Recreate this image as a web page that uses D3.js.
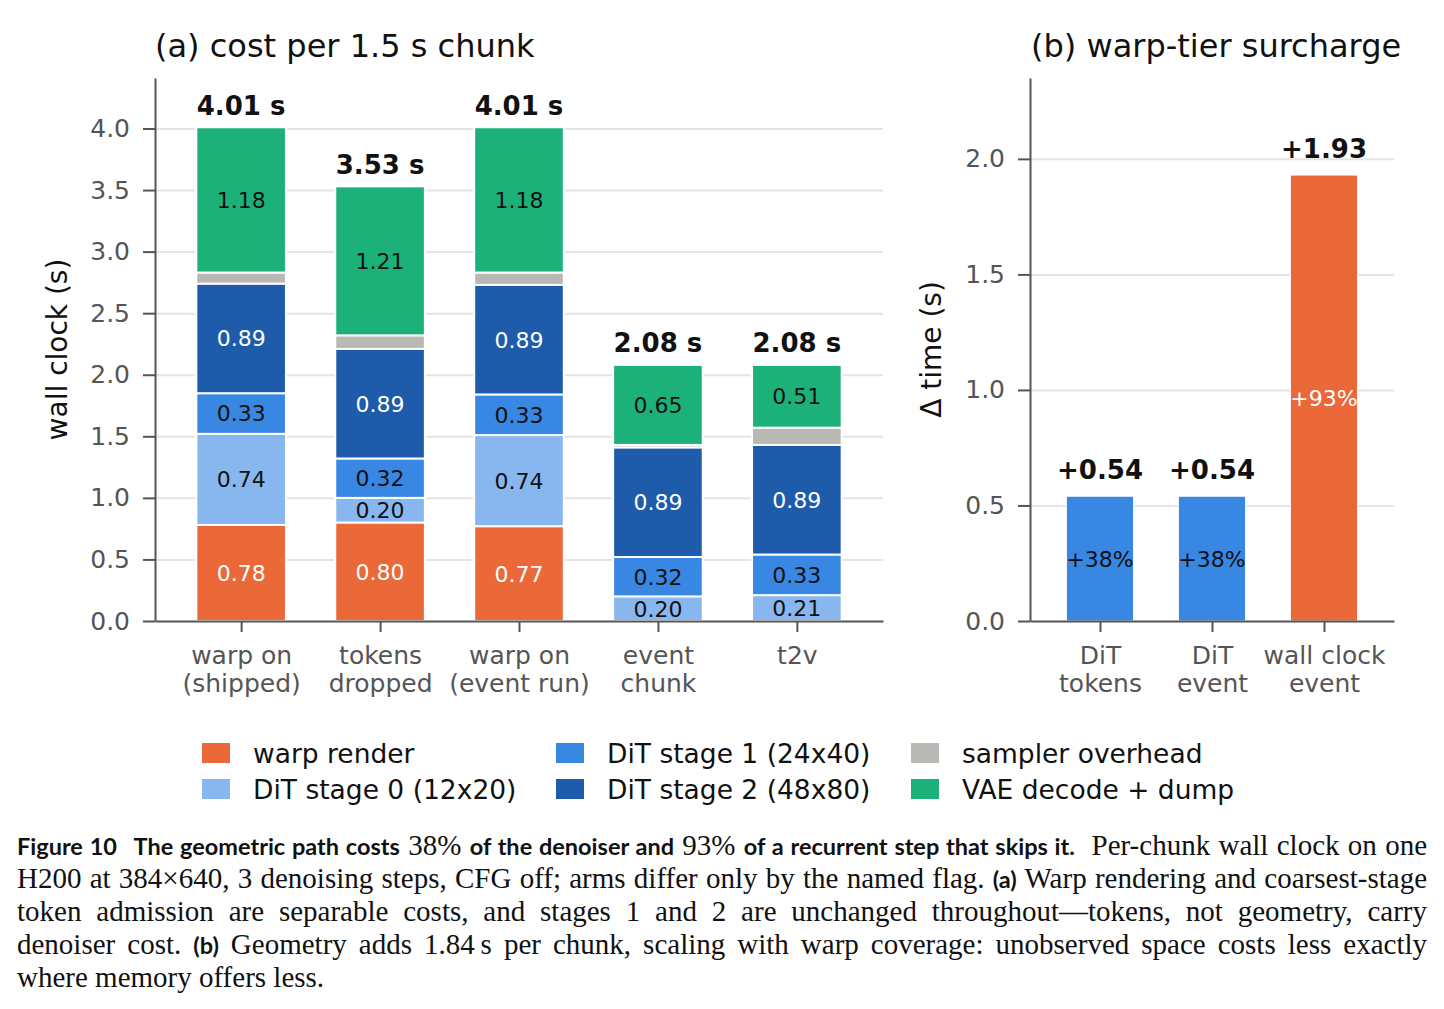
<!DOCTYPE html>
<html>
<head>
<meta charset="utf-8">
<script src="https://cdn.jsdelivr.net/npm/d3@7"></script>
<style>
  body { margin: 0; background: #fff; }
  #chart { position: absolute; left: 0; top: 0; }
  #caption {
    position: absolute; left: 17px; top: 829px; width: 1410px;
    font-family: "Liberation Serif", serif; font-size: 29px; line-height: 33px; color: #111;
  }
  #caption div { height: 33px; text-align: justify; text-align-last: justify; white-space: nowrap; }
  #caption div.last { text-align-last: left; }
  #caption b { font-family: Lato, "Open Sans", sans-serif; font-weight: 700; font-size: 23.5px; line-height: 20px; }
</style>
</head>
<body>
<div id="chart"></div>
<div id="caption">
  <div><b>Figure 10</b>&nbsp; <b>The geometric path costs</b> 38% <b>of the denoiser and</b> 93% <b>of a recurrent step that skips it.</b>&nbsp; Per-chunk wall clock on one</div>
  <div>H200 at 384×640, 3 denoising steps, CFG off; arms differ only by the named flag. <b>(a)</b> Warp rendering and coarsest-stage</div>
  <div>token admission are separable costs, and stages 1 and 2 are unchanged throughout—tokens, not geometry, carry</div>
  <div>denoiser cost. <b>(b)</b> Geometry adds 1.84&thinsp;s per chunk, scaling with warp coverage: unobserved space costs less exactly</div>
  <div class="last">where memory offers less.</div>
</div>
<script>
// ------------ DATA ------------
// (a) per-chunk cost, one value per arm
var arms = [["warp on", "(shipped)"], ["tokens", "dropped"], ["warp on", "(event run)"], ["event", "chunk"], ["t2v"]];
var warpRender      = [0.78, 0.80, 0.77, 0.00, 0.00];
var ditStage0       = [0.74, 0.20, 0.74, 0.20, 0.21];
var ditStage1       = [0.33, 0.32, 0.33, 0.32, 0.33];
var ditStage2       = [0.89, 0.89, 0.89, 0.89, 0.89];
var samplerOverhead = [0.09, 0.11, 0.10, 0.02, 0.14];
var vaeDecode       = [1.18, 1.21, 1.18, 0.65, 0.51];
var totals          = [4.01, 3.53, 4.01, 2.08, 2.08];

var seriesKeys   = ["warp", "s0", "s1", "s2", "sampler", "vae"];
var seriesNames  = ["warp render", "DiT stage 0 (12x20)", "DiT stage 1 (24x40)", "DiT stage 2 (48x80)", "sampler overhead", "VAE decode + dump"];
var seriesColors = ["#EB6838", "#88B7EF", "#3887E3", "#1E5BAA", "#BAB8B4", "#1DB17A"];
var whiteText    = ["warp", "s2"];

// (b) warp-tier surcharge
var tiers     = [["DiT", "tokens"], ["DiT", "event"], ["wall clock", "event"]];
var surcharge = [0.54, 0.54, 1.93];
var surchargePct = ["+38%", "+38%", "+93%"];
var tierColors = ["#3887E3", "#3887E3", "#EB6838"];

var yTicksA = [0, 0.5, 1.0, 1.5, 2.0, 2.5, 3.0, 3.5, 4.0];
var yTicksB = [0, 0.5, 1.0, 1.5, 2.0];

// ------------ SETUP ------------
var svgWidth = 1444, svgHeight = 825;
var font = "DejaVu Sans";
var axisColor = "#555";
var gridColor = "#E6E4E0";

var svg = d3.select("#chart").append("svg")
  .attr("width", svgWidth)
  .attr("height", svgHeight)
  .style("font-family", font);

var plotTop = 78, plotBottom = 621;

// build the table d3.stack needs
var table = arms.map(function(a, i) {
  return { i: i, warp: warpRender[i], s0: ditStage0[i], s1: ditStage1[i], s2: ditStage2[i], sampler: samplerOverhead[i], vae: vaeDecode[i] };
});
var stacked = d3.stack().keys(seriesKeys)(table);

// ------------ helpers ------------
function styleAxis(g) {
  g.select(".domain").attr("stroke", axisColor).attr("stroke-width", 2);
  g.selectAll(".tick line").attr("stroke", axisColor).attr("stroke-width", 2);
  g.selectAll(".tick text").attr("fill", axisColor).attr("font-size", 25).attr("font-family", font);
}

function multiLineTicks(g, labels) {
  g.selectAll(".tick text").each(function(d) {
    var t = d3.select(this).text(null);
    labels[d].forEach(function(line, k) {
      t.append("tspan").attr("x", 0).attr("dy", k === 0 ? "0.75em" : "1.12em").text(line);
    });
  });
}

// ------------ PANEL A ------------
var xA = d3.scaleLinear().domain([-0.62, 4.62]).range([155, 883]);
var yA = d3.scaleLinear().domain([0, 4.41]).range([plotBottom, plotTop]);
var barWA = 0.645 * (xA(1) - xA(0));

var gA = svg.append("g");

// grid
gA.append("g")
  .attr("transform", "translate(155,0)")
  .call(d3.axisLeft(yA).tickValues(yTicksA.slice(1)).tickSize(-(883 - 155)).tickFormat(""))
  .call(function(g) {
    g.select(".domain").remove();
    g.selectAll(".tick line").attr("stroke", gridColor).attr("stroke-width", 2);
  });

// bars
var layers = gA.append("g").selectAll("g")
  .data(stacked)
  .enter().append("g")
  .attr("fill", function(d, k) { return seriesColors[k]; });

layers.selectAll("rect")
  .data(function(d) { return d; })
  .enter().append("rect")
  .filter(function(d) { return d[1] - d[0] > 0; })
  .attr("x", function(d) { return xA(d.data.i) - barWA / 2; })
  .attr("width", barWA)
  .attr("y", function(d) { return yA(d[1]); })
  .attr("height", function(d) { return yA(d[0]) - yA(d[1]); })
  .attr("stroke", "#fff")
  .attr("stroke-width", 2);

// segment labels
layers.each(function(s) {
  var key = s.key;
  d3.select(this).selectAll("text.seg")
    .data(s.filter(function(d) { return d[1] - d[0] >= 0.15; }))
    .enter().append("text")
    .attr("class", "seg")
    .attr("x", function(d) { return xA(d.data.i); })
    .attr("y", function(d) { return yA((d[0] + d[1]) / 2); })
    .attr("dy", "0.36em")
    .attr("text-anchor", "middle")
    .attr("font-size", 22)
    .attr("fill", whiteText.indexOf(key) >= 0 ? "#fff" : "#111")
    .text(function(d) { return (d[1] - d[0]).toFixed(2); });
});

// totals
gA.append("g").selectAll("text")
  .data(totals)
  .enter().append("text")
  .attr("x", function(d, i) { return xA(i); })
  .attr("y", function(d) { return yA(d) - 12.5; })
  .attr("text-anchor", "middle")
  .attr("font-size", 26)
  .attr("font-weight", "bold")
  .attr("fill", "#111")
  .text(function(d) { return d.toFixed(2) + " s"; });

// axes
gA.append("g")
  .attr("transform", "translate(155,0)")
  .call(d3.axisLeft(yA).tickValues(yTicksA).tickSize(12).tickSizeOuter(0).tickPadding(13).tickFormat(d3.format(".1f")))
  .call(styleAxis);

gA.append("g")
  .attr("transform", "translate(0," + plotBottom + ")")
  .call(d3.axisBottom(xA).tickValues(d3.range(arms.length)).tickSize(11).tickSizeOuter(0).tickPadding(13))
  .call(styleAxis)
  .call(multiLineTicks, arms);

// labels
gA.append("text")
  .attr("x", 155).attr("y", 57)
  .attr("font-size", 32).attr("fill", "#111")
  .text("(a) cost per 1.5 s chunk");

gA.append("text")
  .attr("transform", "translate(67," + ((plotTop + plotBottom) / 2) + ") rotate(-90)")
  .attr("text-anchor", "middle")
  .attr("font-size", 28).attr("fill", "#111")
  .text("wall clock (s)");

// ------------ PANEL B ------------
var xB = d3.scaleLinear().domain([-0.625, 2.625]).range([1030, 1394]);
var yB = d3.scaleLinear().domain([0, 2.35]).range([plotBottom, plotTop]);
var barWB = 0.6 * (xB(1) - xB(0));

var gB = svg.append("g");

gB.append("g")
  .attr("transform", "translate(1030,0)")
  .call(d3.axisLeft(yB).tickValues(yTicksB.slice(1)).tickSize(-(1394 - 1030)).tickFormat(""))
  .call(function(g) {
    g.select(".domain").remove();
    g.selectAll(".tick line").attr("stroke", gridColor).attr("stroke-width", 2);
  });

gB.append("g").selectAll("rect")
  .data(surcharge)
  .enter().append("rect")
  .attr("x", function(d, i) { return xB(i) - barWB / 2; })
  .attr("width", barWB)
  .attr("y", function(d) { return yB(d); })
  .attr("height", function(d) { return yB(0) - yB(d); })
  .attr("fill", function(d, i) { return tierColors[i]; })
  .attr("stroke", "#fff")
  .attr("stroke-width", 1);

gB.append("g").selectAll("text")
  .data(surcharge)
  .enter().append("text")
  .attr("x", function(d, i) { return xB(i); })
  .attr("y", function(d) { return yB(d) - 17; })
  .attr("text-anchor", "middle")
  .attr("font-size", 26)
  .attr("font-weight", "bold")
  .attr("fill", "#111")
  .text(function(d) { return "+" + d.toFixed(2); });

gB.append("g").selectAll("text")
  .data(surcharge)
  .enter().append("text")
  .attr("x", function(d, i) { return xB(i); })
  .attr("y", function(d) { return yB(d / 2); })
  .attr("dy", "0.36em")
  .attr("text-anchor", "middle")
  .attr("font-size", 22)
  .attr("fill", function(d, i) { return tierColors[i] === "#EB6838" ? "#fff" : "#111"; })
  .text(function(d, i) { return surchargePct[i]; });

gB.append("g")
  .attr("transform", "translate(1030,0)")
  .call(d3.axisLeft(yB).tickValues(yTicksB).tickSize(12).tickSizeOuter(0).tickPadding(13).tickFormat(d3.format(".1f")))
  .call(styleAxis);

gB.append("g")
  .attr("transform", "translate(0," + plotBottom + ")")
  .call(d3.axisBottom(xB).tickValues(d3.range(tiers.length)).tickSize(11).tickSizeOuter(0).tickPadding(13))
  .call(styleAxis)
  .call(multiLineTicks, tiers);

gB.append("text")
  .attr("x", 1031).attr("y", 57)
  .attr("font-size", 32).attr("fill", "#111")
  .text("(b) warp-tier surcharge");

gB.append("text")
  .attr("transform", "translate(941," + ((plotTop + plotBottom) / 2) + ") rotate(-90)")
  .attr("text-anchor", "middle")
  .attr("font-size", 28).attr("fill", "#111")
  .text("Δ time (s)");

// ------------ LEGEND ------------
var legendCols = [202, 556, 911];
var legendRows = [753, 789];
var legend = svg.append("g").selectAll("g")
  .data(seriesNames)
  .enter().append("g")
  .attr("transform", function(d, k) {
    return "translate(" + legendCols[Math.floor(k / 2)] + "," + legendRows[k % 2] + ")";
  });

legend.append("rect")
  .attr("x", 0).attr("y", -10)
  .attr("width", 28).attr("height", 20)
  .attr("fill", function(d, k) { return seriesColors[k]; });

legend.append("text")
  .attr("x", 51).attr("dy", "0.36em")
  .attr("font-size", 26.5).attr("fill", "#111")
  .text(function(d) { return d; });
</script>
</body>
</html>
